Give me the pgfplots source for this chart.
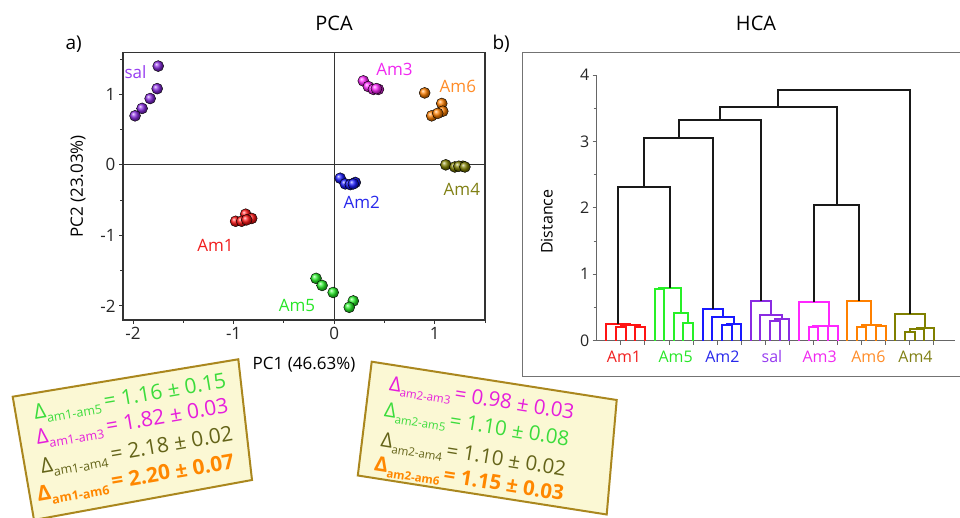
\documentclass[border=0pt]{standalone}
\usepackage{pgfplots}
\pgfplotsset{compat=1.18}
\usepackage{fontspec}
\setmainfont{Open Sans}
\definecolor{cSal}{RGB}{138,43,226}
\definecolor{cAm3}{RGB}{255,40,255}
\definecolor{cAm6}{RGB}{255,128,0}
\definecolor{cAm4}{RGB}{128,128,0}
\definecolor{cAm2}{RGB}{25,25,255}
\definecolor{cAm1}{RGB}{255,20,20}
\definecolor{cAm5}{RGB}{40,240,40}
\definecolor{tSal}{RGB}{150,60,240}
\definecolor{tAm3}{RGB}{240,40,240}
\definecolor{tAm6}{RGB}{255,140,40}
\definecolor{tAm4}{RGB}{128,128,20}
\definecolor{tAm2}{RGB}{40,40,235}
\definecolor{tAm1}{RGB}{240,30,30}
\definecolor{tAm5}{RGB}{40,230,40}
\definecolor{bGreen}{RGB}{60,220,60}
\definecolor{bMag}{RGB}{230,30,220}
\definecolor{bOlive}{RGB}{100,100,25}
\definecolor{bOrange}{RGB}{255,135,0}
\definecolor{boxfill}{RGB}{251,248,212}
\definecolor{boxedge}{RGB}{170,135,30}
\newcommand{\fs}[1]{\fontsize{#1}{#1}\selectfont}
\newcommand{\dla}[3]{Δ\raisebox{-5pt}{\fs{12.5}#1}\,= #2 ± #3}
\newcommand{\dlb}[3]{Δ\raisebox{-4.5pt}{\fs{11.5}#1}\,= #2 ± #3}
\begin{document}
\begin{tikzpicture}[x=1pt,y=1pt]
\useasboundingbox (0,0) rectangle (960,518);
% titles
\node[anchor=base,font=\fs{20}] at (334,487.3) {PCA};
\node[anchor=base,font=\fs{20}] at (756,487.3) {HCA};
\node[anchor=base west,font=\fs{19}] at (62,468) {a)};
\node[anchor=base west,font=\fs{19}] at (489,468) {b)};
% HCA frame
\draw[black!55, line width=1.5pt] (522.7,141.3) rectangle (966,465.3);
% ---------------- PCA ----------------
\begin{axis}[
 at={(123pt,198pt)}, anchor=south west, scale only axis,
 width=362pt, height=267.3pt,
 xmin=-2.1, xmax=1.5, ymin=-2.2, ymax=1.59,
 xtick={-2,-1,0,1}, ytick={-2,-1,0,1},
 minor xtick={-1.5,-0.5,0.5,1.5}, minor ytick={-1.5,-0.5,0.5,1.5},
 tick align=outside, tick pos=left,
 major tick length=4pt, minor tick length=3pt,
 axis line style={draw=black!80, line width=1.2pt},
 every tick/.style={black!80, line width=1pt},
 tick label style={font=\fs{17}, text=black!85},
 /pgf/number format/assume math mode=true,
 xlabel={PC1 (46.63\%)}, ylabel={PC2 (23.03\%)},
 xlabel style={at={(axis description cs:0.5,-0.1684)}, anchor=center, font=\fs{17}},
 ylabel style={at={(axis description cs:-0.1243,0.5)}, anchor=center, font=\fs{17}},
 clip=false,
]
\addplot[black!80, line width=1.2pt] coordinates {(0,-2.2) (0,1.59)};
\addplot[black!80, line width=1.2pt] coordinates {(-2.1,0) (1.5,0)};
\addplot[only marks, mark=ball, mark size=5.5pt, ball color=cSal] coordinates {(-1.75,1.40) (-1.76,1.08) (-1.83,0.94) (-1.91,0.80) (-1.98,0.695)};
\addplot[only marks, mark=ball, mark size=5.5pt, ball color=cAm3] coordinates {(0.29,1.19) (0.34,1.11) (0.39,1.07) (0.44,1.07) (0.42,1.08)};
\addplot[only marks, mark=ball, mark size=5.5pt, ball color=cAm6] coordinates {(0.90,1.02) (1.07,0.87) (1.08,0.76) (0.97,0.695) (1.03,0.73)};
\addplot[only marks, mark=ball, mark size=5.5pt, ball color=cAm4] coordinates {(1.11,0.0) (1.20,-0.03) (1.28,-0.02) (1.24,-0.02) (1.30,-0.03)};
\addplot[only marks, mark=ball, mark size=5.5pt, ball color=cAm2] coordinates {(0.06,-0.19) (0.11,-0.27) (0.16,-0.28) (0.21,-0.25) (0.19,-0.27)};
\addplot[only marks, mark=ball, mark size=5.5pt, ball color=cAm1] coordinates {(-0.98,-0.80) (-0.88,-0.70) (-0.92,-0.80) (-0.82,-0.76) (-0.87,-0.78)};
\addplot[only marks, mark=ball, mark size=5.5pt, ball color=cAm5] coordinates {(-0.18,-1.61) (-0.12,-1.71) (-0.01,-1.81) (0.19,-1.93) (0.15,-2.02)};
\node[text=tSal, font=\fs{17}] at (axis cs:-1.976,1.32) {sal};
\node[text=tAm3, font=\fs{17}] at (axis cs:0.60,1.35) {Am3};
\node[text=tAm6, font=\fs{17}] at (axis cs:1.23,1.11) {Am6};
\node[text=tAm4, font=\fs{17}] at (axis cs:1.27,-0.35) {Am4};
\node[text=tAm2, font=\fs{17}] at (axis cs:0.275,-0.53) {Am2};
\node[text=tAm1, font=\fs{17}] at (axis cs:-1.18,-1.14) {Am1};
\node[text=tAm5, font=\fs{17}] at (axis cs:-0.37,-2.0) {Am5};
\end{axis}
% ---------------- HCA ----------------
\begin{axis}[
 at={(596.7pt,177.3pt)}, anchor=south west, scale only axis,
 width=358.3pt, height=265.7pt,
 xmin=0, xmax=37.2, ymin=0, ymax=4,
 axis x line=bottom, axis y line=left,
 axis line style={-, draw=black!60, line width=1pt},
 xtick={2.5,5,...,35}, xticklabels={},
 ytick={0,1,2,3,4}, minor ytick={0.5,1.5,2.5,3.5},
 tick align=outside, major tick length=4pt, minor tick length=3pt,
 every tick/.style={black!60, line width=0.8pt},
 tick label style={font=\fs{16}, text=black!85},
 /pgf/number format/assume math mode=true,
 ylabel={Distance},
 ylabel style={at={(axis description cs:-0.1395,0.448)}, anchor=center, font=\fs{16}},
 clip=false,
]
% red Am1
\addplot[cAm1, line width=2pt] coordinates {(2,0)(2,0.21)(3,0.21)(3,0)};
\addplot[cAm1, line width=2pt] coordinates {(4,0)(4,0.20)(5,0.20)(5,0)};
\addplot[cAm1, line width=2pt] coordinates {(2.5,0.21)(2.5,0.235)(4.5,0.235)(4.5,0.20)};
\addplot[cAm1, line width=2pt] coordinates {(1,0)(1,0.245)(3.5,0.245)(3.5,0.235)};
% green Am5
\addplot[cAm5, line width=2pt] coordinates {(6,0)(6,0.78)(7,0.78)(7,0)};
\addplot[cAm5, line width=2pt] coordinates {(9,0)(9,0.26)(10,0.26)(10,0)};
\addplot[cAm5, line width=2pt] coordinates {(8,0)(8,0.42)(9.5,0.42)(9.5,0.26)};
\addplot[cAm5, line width=2pt] coordinates {(6.5,0.78)(6.5,0.80)(8.75,0.80)(8.75,0.42)};
% blue Am2
\addplot[cAm2, line width=2pt] coordinates {(13,0)(13,0.23)(14,0.23)(14,0)};
\addplot[cAm2, line width=2pt] coordinates {(13.5,0.23)(13.5,0.25)(15,0.25)(15,0)};
\addplot[cAm2, line width=2pt] coordinates {(12,0)(12,0.36)(14.25,0.36)(14.25,0.25)};
\addplot[cAm2, line width=2pt] coordinates {(11,0)(11,0.48)(13.1,0.48)(13.1,0.36)};
% purple sal
\addplot[cSal, line width=2pt] coordinates {(18,0)(18,0.30)(19,0.30)(19,0)};
\addplot[cSal, line width=2pt] coordinates {(18.5,0.30)(18.5,0.32)(20,0.32)(20,0)};
\addplot[cSal, line width=2pt] coordinates {(17,0)(17,0.39)(19.25,0.39)(19.25,0.32)};
\addplot[cSal, line width=2pt] coordinates {(16,0)(16,0.60)(18.125,0.60)(18.125,0.39)};
% magenta Am3
\addplot[cAm3, line width=2pt] coordinates {(22,0)(22,0.20)(23,0.20)(23,0)};
\addplot[cAm3, line width=2pt] coordinates {(22.5,0.20)(22.5,0.215)(24,0.215)(24,0)};
\addplot[cAm3, line width=2pt] coordinates {(23.25,0.215)(23.25,0.226)(25,0.226)(25,0)};
\addplot[cAm3, line width=2pt] coordinates {(21,0)(21,0.58)(24.125,0.58)(24.125,0.226)};
% orange Am6
\addplot[cAm6, line width=2pt] coordinates {(27,0)(27,0.21)(28,0.21)(28,0)};
\addplot[cAm6, line width=2pt] coordinates {(29,0)(29,0.22)(30,0.22)(30,0)};
\addplot[cAm6, line width=2pt] coordinates {(27.5,0.21)(27.5,0.23)(29.5,0.23)(29.5,0.22)};
\addplot[cAm6, line width=2pt] coordinates {(26,0)(26,0.60)(28.5,0.60)(28.5,0.23)};
% olive Am4
\addplot[cAm4, line width=2pt] coordinates {(32,0)(32,0.13)(33,0.13)(33,0)};
\addplot[cAm4, line width=2pt] coordinates {(32.5,0.13)(32.5,0.17)(34,0.17)(34,0)};
\addplot[cAm4, line width=2pt] coordinates {(33.25,0.17)(33.25,0.19)(35,0.19)(35,0)};
\addplot[cAm4, line width=2pt] coordinates {(31,0)(31,0.40)(34.125,0.40)(34.125,0.19)};
% black merges
\addplot[black!90, line width=2pt] coordinates {(2.25,0.245)(2.25,2.31)(7.625,2.31)(7.625,0.80)};
\addplot[black!90, line width=2pt] coordinates {(4.94,2.31)(4.94,3.05)(12.06,3.05)(12.06,0.48)};
\addplot[black!90, line width=2pt] coordinates {(8.5,3.05)(8.5,3.32)(17.06,3.32)(17.06,0.60)};
\addplot[black!90, line width=2pt] coordinates {(22.56,0.58)(22.56,2.05)(27.25,2.05)(27.25,0.60)};
\addplot[black!90, line width=2pt] coordinates {(12.78,3.32)(12.78,3.52)(24.9,3.52)(24.9,2.05)};
\addplot[black!90, line width=2pt] coordinates {(18.84,3.52)(18.84,3.78)(32.56,3.78)(32.56,0.40)};
% leaf labels
\node[text=tAm1, font=\fs{16}, anchor=base] at (axis cs:2.83,0) [yshift=-22pt] {Am1};
\node[text=tAm5, font=\fs{16}, anchor=base] at (axis cs:8.2,0) [yshift=-22pt] {Am5};
\node[text=tAm2, font=\fs{16}, anchor=base] at (axis cs:13.05,0) [yshift=-22pt] {Am2};
\node[text=tSal, font=\fs{16}, anchor=base] at (axis cs:18.2,0) [yshift=-22pt] {sal};
\node[text=tAm3, font=\fs{16}, anchor=base] at (axis cs:23.15,0) [yshift=-22pt] {Am3};
\node[text=tAm6, font=\fs{16}, anchor=base] at (axis cs:28.2,0) [yshift=-22pt] {Am6};
\node[text=tAm4, font=\fs{16}, anchor=base] at (axis cs:33.1,0) [yshift=-22pt] {Am4};
\end{axis}
% ---------------- boxes ----------------
\fill[boxfill, draw=boxedge, line width=2pt] (12.7,121.3) -- (238.3,158.7) -- (252,38) -- (34,-2) -- cycle;
\begin{scope}[every node/.style={inner sep=0pt, anchor=base west}]
\node[rotate=9.7, text=bGreen, font=\fs{21}] at (35,98) {\dla{am1-am5}{1.16}{0.15}};
\node[rotate=9.7, text=bMag, font=\fs{21}] at (37.3,73) {\dla{am1-am3}{1.82}{0.03}};
\node[rotate=9.7, text=bOlive, font=\fs{21}] at (41.7,44.7) {\dla{am1-am4}{2.18}{0.02}};
\node[rotate=9.7, text=bOrange, font=\fs{21}\bfseries] at (38.3,16.3) {\dla{am1-am6}{2.20}{0.07}};
\end{scope}
\fill[boxfill, draw=boxedge, line width=2pt] (371.7,156.3) -- (616.7,118) -- (606.7,3.5) -- (357.8,42.5) -- cycle;
\begin{scope}[every node/.style={inner sep=0pt, anchor=base west}]
\node[rotate=-9.1, text=bMag, font=\fs{20.5}] at (388.3,128) {\dlb{am2-am3}{0.98}{0.03}};
\node[rotate=-9.1, text=bGreen, font=\fs{20.5}] at (383.3,101.3) {\dlb{am2-am5}{1.10}{0.08}};
\node[rotate=-9.1, text=bOlive, font=\fs{20.5}] at (380,71.3) {\dlb{am2-am4}{1.10}{0.02}};
\node[rotate=-9.1, text=bOrange, font=\fs{20.5}\bfseries] at (373.3,47.5) {\dlb{am2-am6}{1.15}{0.03}};
\end{scope}
\end{tikzpicture}
\end{document}
